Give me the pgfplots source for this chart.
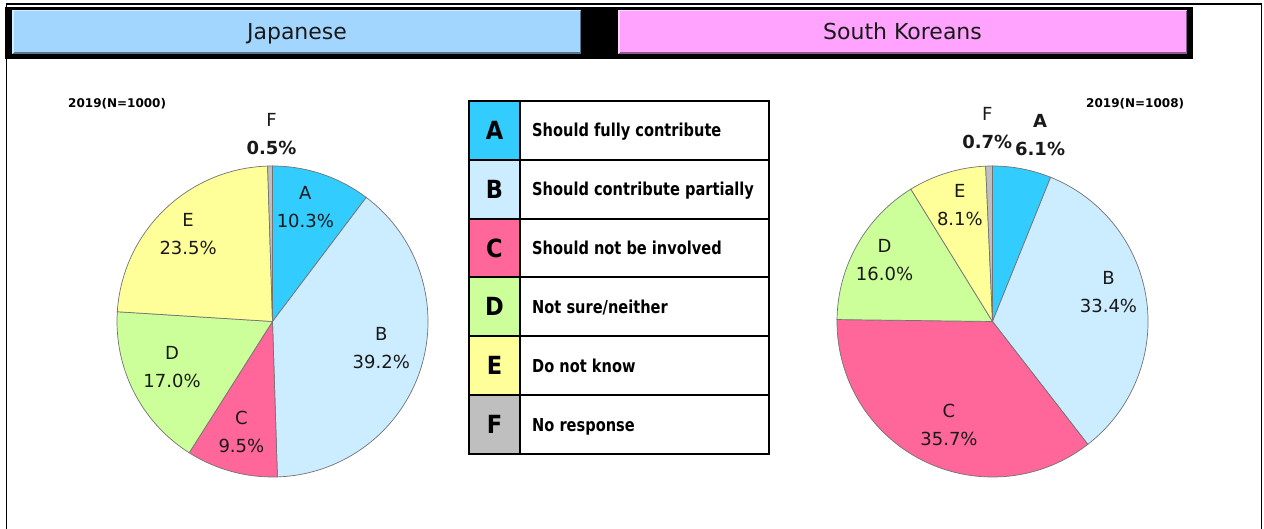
\documentclass[border=0pt]{standalone}
\usepackage{pgfplots}
\usepackage{pgfplotstable}
\pgfplotsset{compat=1.18}
\usepackage{fontspec}
\setmainfont{DejaVu Sans}
\newfontfamily\legfont{DejaVu Sans}[FakeStretch=0.82]
\newfontfamily\letfont{DejaVu Sans}[FakeStretch=0.9]

\definecolor{cA}{HTML}{33CCFF}
\definecolor{cB}{HTML}{CCECFF}
\definecolor{cC}{HTML}{FF6699}
\definecolor{cD}{HTML}{CCFF99}
\definecolor{cE}{HTML}{FFFF99}
\definecolor{cF}{HTML}{BFBFBF}
\definecolor{hblue}{HTML}{A3D6FF}
\definecolor{hpink}{HTML}{FFA3FF}

% val = share in %, da/lr = label angle shift and radius factor, bf = bold label
\pgfplotstableread{
cat val  col da   lr    bf
A   10.3 cA  2.5  0.765 0
B   39.2 cB  4.0  0.72  0
C   9.5  cC  -0.4 0.74  0
D   17.0 cD  -2.5 0.71  0
E   23.5 cE  0.0  0.78  0
F   0.5  cF  -0.6 1.206 1
}\jpdata
\pgfplotstableread{
cat val  col da   lr    bf
A   6.1  cA  -3.3 1.24  2
B   33.4 cB  6.4  0.77  0
C   35.7 cC  3.6  0.72  0
D   16.0 cD  -0.3 0.80  0
E   8.1  cE  -1.5 0.78  0
F   0.7  cF  0.3  1.245 1
}\krdata

\newcommand\pielab{\fontsize{18}{28}\selectfont}
\newcommand\getrow[2]{%
  \pgfplotstablegetelem{#1}{cat}\of#2\let\wcat\pgfplotsretval
  \pgfplotstablegetelem{#1}{val}\of#2\let\wval\pgfplotsretval
  \pgfplotstablegetelem{#1}{col}\of#2\let\wcol\pgfplotsretval
  \pgfplotstablegetelem{#1}{da}\of#2\let\wda\pgfplotsretval
  \pgfplotstablegetelem{#1}{lr}\of#2\let\wlr\pgfplotsretval
  \pgfplotstablegetelem{#1}{bf}\of#2\let\wbf\pgfplotsretval}
\newcommand\drawpie[1]{%
  \pgfplotsextra{%
    \def\wang{90}%
    \pgfplotsforeachungrouped \i in {0,...,5}{%
      \getrow{\i}{#1}%
      \pgfmathsetmacro\wnxt{\wang-3.6*\wval}%
      \filldraw[fill=\wcol, draw=black!55, line width=0.7pt] (axis cs:0,0) -- ++(\wang:155.5pt)
        arc[start angle=\wang, end angle=\wnxt, radius=155.5pt] -- cycle;
      \let\wang\wnxt}%
    \def\wang{90}%
    \pgfplotsforeachungrouped \i in {0,...,5}{%
      \getrow{\i}{#1}%
      \pgfmathsetmacro\wla{\wang-1.8*\wval+\wda}%
      \pgfmathsetmacro\wld{155.5*\wlr}%
      \pgfmathsetmacro\wnxt{\wang-3.6*\wval}%
      \path (axis cs:0,0) ++(\wla:\wld pt) node[align=center, font=\pielab, text=black!90]
        {\ifnum\wbf=2 \bfseries\fi\wcat\\\ifnum\wbf>0 \bfseries\fi
         \pgfmathprintnumber[fixed,fixed zerofill,precision=1,assume math mode=true]{\wval}\%};
      \let\wang\wnxt}%
  }}

\begin{document}
\begin{tikzpicture}[x=1pt,y=1pt]
\useasboundingbox[fill=white] (0,0) rectangle (1264,529);

% frame
\draw[line width=1.5pt] (6.5,0) -- (6.5,525) -- (1261.5,525) -- (1261.5,0);

% header
\fill[black] (5,470) rectangle (1193,522);
\fill[hblue] (12,475) rectangle (581,519);
\draw[hblue!55!black, line width=1.5pt] (12.75,475.75) -- (580.25,475.75) -- (580.25,518.25);
\draw[white!55!hblue, line width=1.5pt] (12.75,475.75) -- (12.75,518.25) -- (580.25,518.25);
\fill[hpink] (618,475) rectangle (1187,519);
\draw[hpink!55!black, line width=1.5pt] (618.75,475.75) -- (1186.25,475.75) -- (1186.25,518.25);
\draw[white!55!hpink, line width=1.5pt] (618.75,475.75) -- (618.75,518.25) -- (1186.25,518.25);
\node[anchor=base, font=\fontsize{22}{26}\selectfont, text=black!90] at (297,489) {Japanese};
\node[anchor=base, font=\fontsize{22}{26}\selectfont, text=black!90] at (902.5,489) {South Koreans};

\node[anchor=base west, font=\fontsize{12}{14}\selectfont\bfseries, inner sep=0pt] at (68,421) {2019(N=1000)};
\node[anchor=base west, font=\fontsize{12}{14}\selectfont\bfseries, inner sep=0pt] at (1086,421) {2019(N=1008)};

% legend table
\foreach \k/\col/\txt [count=\j from 0] in {A/cA/Should fully contribute, B/cB/Should contribute partially, C/cC/Should not be involved, D/cD/Not sure\slash neither, E/cE/Do not know, F/cF/No response}{
  \pgfmathsetmacro\yt{428-58.83*\j}
  \pgfmathsetmacro\yb{\yt-58.83}
  \fill[\col] (469,\yb) rectangle (520,\yt);
  \draw[line width=2pt] (469,\yb) rectangle (769,\yt);
  \draw[line width=2pt] (520,\yb) -- (520,\yt);
  \node[anchor=base, inner sep=0pt, font=\letfont\bfseries\fontsize{25}{28}\selectfont] at (494.5,{(\yt+\yb)/2-9}) {\k};
  \node[anchor=base west, inner sep=0pt, font=\legfont\bfseries\fontsize{17.8}{20}\selectfont] at (532,{(\yt+\yb)/2-6.5}) {\txt};
}

% pies
\begin{axis}[at={(272.5pt,207.5pt)}, anchor=center, hide axis, clip=false,
  x=155.5pt, y=155.5pt, xmin=-1, xmax=1, ymin=-1, ymax=1]
\drawpie\jpdata
\end{axis}
\begin{axis}[at={(992.5pt,207.5pt)}, anchor=center, hide axis, clip=false,
  x=155.5pt, y=155.5pt, xmin=-1, xmax=1, ymin=-1, ymax=1]
\drawpie\krdata
\end{axis}
\end{tikzpicture}
\end{document}
